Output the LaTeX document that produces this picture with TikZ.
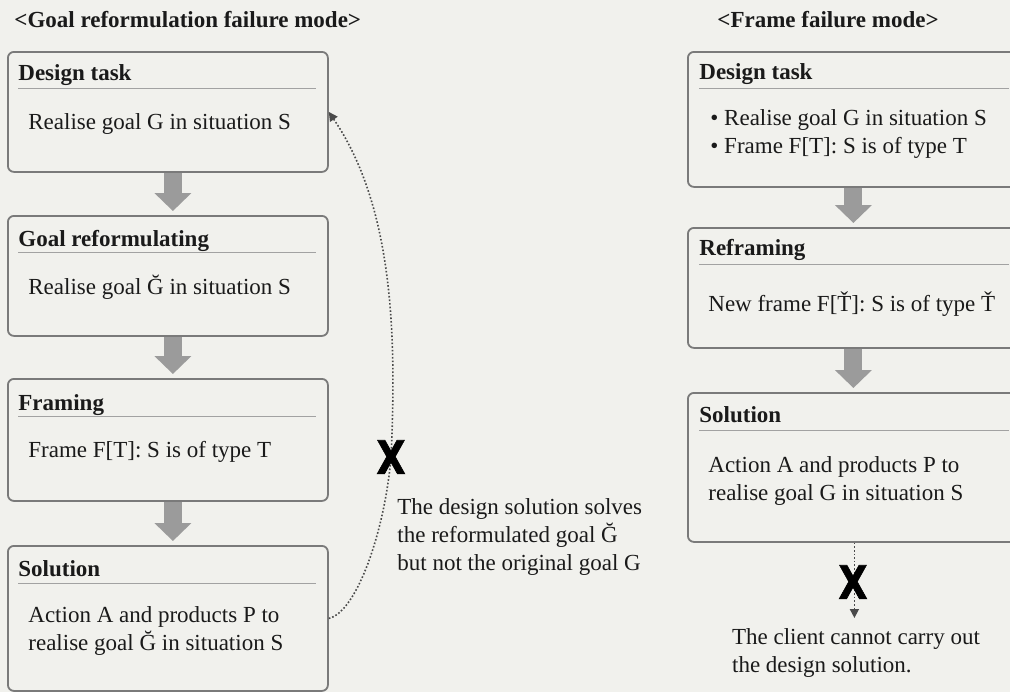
\documentclass[tikz,border=0pt]{standalone}
\usepackage{fontspec}
\setmainfont{Liberation Serif}
\newfontfamily\markfont{DejaVu Sans}[BoldFeatures={FakeBold=1.5}]
\usetikzlibrary{arrows.meta,positioning,calc}

\definecolor{paper}{HTML}{F1F1ED}
\definecolor{edgegray}{HTML}{7A7A7A}
\definecolor{ink}{HTML}{1A1A1A}
\definecolor{flowgray}{HTML}{9B9B9B}
\definecolor{dotgray}{HTML}{4A4A4A}

\begin{document}
\begin{tikzpicture}[x=0.5pt, y=-0.5pt,
    every node/.style={font=\fontsize{11.5}{14}\selectfont, text=ink, inner sep=0pt},
    stage/.style={draw=edgegray, line width=0.9pt, rounded corners=3pt, anchor=north west},
    head/.style={anchor=west, font=\fontsize{11.5}{14}\selectfont\bfseries},
    body/.style={anchor=north west, align=left},
    rule/.style={draw=edgegray!70, line width=0.5pt},
    flowarrow/.style={-{Triangle[width=18pt,length=9pt]}, line width=9pt, draw=flowgray, shorten >=2pt},
    brokenlink/.style={dash pattern=on 0.8pt off 1pt, draw=dotgray, line width=0.8pt, -{Triangle[width=4.5pt,length=4.5pt]}},
    failmark/.style={font=\markfont\bfseries\fontsize{23}{23}\selectfont, text=black}
]

\clip (0,0) rectangle (1010,692);
\fill[paper] (0,0) rectangle (1010,692);

% Titles
\node[head] (ltitle) at (14,20) {<Goal reformulation failure mode>};
\node[head] (rtitle) at (717,20) {<Frame failure mode>};

% Goal reformulation failure mode
\node[stage, minimum width=160pt, minimum height=60pt] (ltask) at (7,51) {};
\node[head] (ltaskh) at ($(ltask.north west)+(11,24)$) {Design task};
\draw[rule] ($(ltask.north west)+(11,37)$) -- ($(ltask.north east)+(-13,37)$);
\node[body] (ltaskb) at ($(ltask.north west)+(21,62)$) {Realise goal G in situation S};

\node[stage, minimum width=160pt, minimum height=60pt] (lreform) at (7,215) {};
\node[head] (lreformh) at ($(lreform.north west)+(11,26)$) {Goal reformulating};
\draw[rule] ($(lreform.north west)+(11,37)$) -- ($(lreform.north east)+(-13,37)$);
\node[body] (lreformb) at ($(lreform.north west)+(21,60)$) {Realise goal Ğ in situation S};

\node[stage, minimum width=160pt, minimum height=61pt] (lframe) at (7,378) {};
\node[head] (lframeh) at ($(lframe.north west)+(11,27)$) {Framing};
\draw[rule] ($(lframe.north west)+(11,38)$) -- ($(lframe.north east)+(-13,38)$);
\node[body] (lframeb) at ($(lframe.north west)+(21,63)$) {Frame F[T]: S is of type T};

\node[stage, minimum width=160pt, minimum height=72.5pt] (lsol) at (7,545) {};
\node[head] (lsolh) at ($(lsol.north west)+(11,24)$) {Solution};
\draw[rule] ($(lsol.north west)+(11,38)$) -- ($(lsol.north east)+(-13,38)$);
\node[body] (lsolb) at ($(lsol.north west)+(21,61)$) {Action A and products P to\\realise goal Ğ in situation S};

\draw[flowarrow] ([xshift=2.5pt]ltask.south) -- ([xshift=2.5pt]lreform.north);
\draw[flowarrow] ([xshift=2.5pt]lreform.south) -- ([xshift=2.5pt]lframe.north);
\draw[flowarrow] ([xshift=2.5pt]lframe.south) -- ([xshift=2.5pt]lsol.north);

% Broken feedback to the task
\coordinate (lcutpt) at (391,457);
\draw[brokenlink] (lsol.east) .. controls (357,612) and (385,530) .. (lcutpt)
    .. controls (397,330) and (392,205) .. (ltask.east);
\node[failmark] (lcut) at (lcutpt) {\scalebox{0.82}[1]{X}};
\node[body] (lnote) at (397,498) {The design solution solves\\the reformulated goal Ğ\\but not the original goal G};

% Frame failure mode
\node[stage, minimum width=166.5pt, minimum height=67.5pt] (rtask) at (687,51) {};
\node[head] (rtaskh) at ($(rtask.north west)+(12,23)$) {Design task};
\draw[rule] ($(rtask.north west)+(12,37)$) -- ($(rtask.north east)+(-13,37)$);
\node[body] (rtaskb) at ($(rtask.north west)+(23,58)$) {• Realise goal G in situation S\\• Frame F[T]: S is of type T};

\node[stage, minimum width=166.5pt, minimum height=60pt] (rreframe) at (687,227) {};
\node[head] (rreframeh) at ($(rreframe.north west)+(12,23)$) {Reframing};
\draw[rule] ($(rreframe.north west)+(12,37)$) -- ($(rreframe.north east)+(-13,37)$);
\node[body] (rreframeb) at ($(rreframe.north west)+(21,64)$) {New frame F[Ť]: S is of type Ť};

\node[stage, minimum width=166.5pt, minimum height=74.5pt] (rsol) at (687,392) {};
\node[head] (rsolh) at ($(rsol.north west)+(12,23)$) {Solution};
\draw[rule] ($(rsol.north west)+(12,38)$) -- ($(rsol.north east)+(-13,38)$);
\node[body] (rsolb) at ($(rsol.north west)+(21,64)$) {Action A and products P to\\realise goal G in situation S};

\draw[flowarrow] ([xshift=-0.5pt]rtask.south) -- ([xshift=-0.5pt]rreframe.north);
\draw[flowarrow] ([xshift=-0.5pt]rreframe.south) -- ([xshift=-0.5pt]rsol.north);

% Client cannot carry it out
\node[body, anchor=north] (rnote) at (856,628) {The client cannot carry out\\the design solution.};
\draw[brokenlink, shorten >=5pt] (rsol.south) -- (rsol.south |- rnote.north);
\node[failmark] (rcut) at (853,582) {\scalebox{0.82}[1]{X}};

\end{tikzpicture}
\end{document}
